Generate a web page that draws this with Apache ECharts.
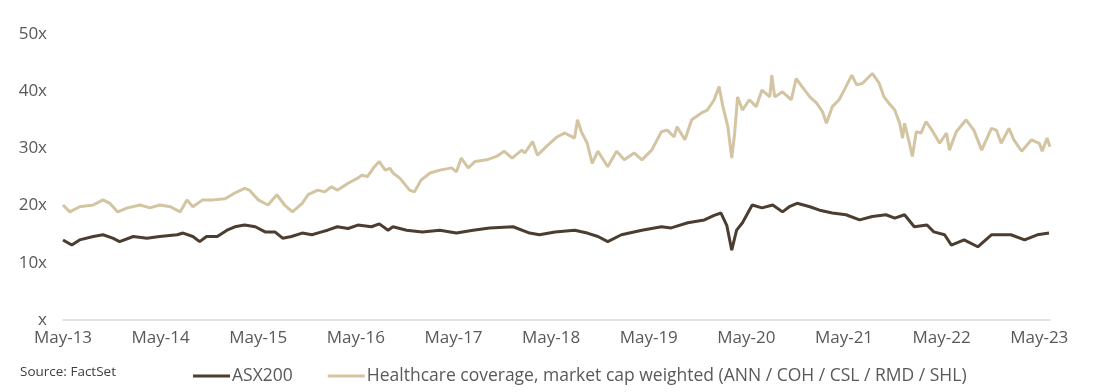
<!DOCTYPE html>
<html>
<head>
<meta charset="utf-8">
<script src="https://cdn.jsdelivr.net/npm/echarts@6/dist/echarts.min.js"></script>
<style>
html,body{margin:0;padding:0;background:#fff;}
#c{width:1094px;height:392px;}
</style>
</head>
<body>
<div id="c"></div>
<script>
// x = years since May-2013
const xTickLabels = ['May-13','May-14','May-15','May-16','May-17','May-18','May-19','May-20','May-21','May-22','May-23'];
const yTickLabels = ['x','10x','20x','30x','40x','50x'];
const seriesNames = ['ASX200','Healthcare coverage, market cap weighted (ANN / COH / CSL / RMD / SHL)'];

const asxYears = [0.00,0.09,0.17,0.31,0.41,0.51,0.58,0.72,0.86,0.99,1.17,1.23,1.33,1.40,1.47,1.58,1.68,1.76,1.86,1.97,2.07,2.17,2.25,2.34,2.45,2.55,2.65,2.71,2.81,2.92,3.02,3.16,3.24,3.33,3.38,3.52,3.68,3.86,4.03,4.20,4.37,4.61,4.78,4.88,5.04,5.24,5.37,5.48,5.58,5.72,5.93,6.13,6.23,6.40,6.57,6.67,6.74,6.80,6.85,6.90,6.96,7.03,7.06,7.16,7.27,7.37,7.44,7.52,7.65,7.75,7.88,8.02,8.16,8.29,8.43,8.52,8.62,8.72,8.85,8.92,9.03,9.10,9.23,9.37,9.51,9.71,9.85,9.98,10.10];
const asxValues = [14.0,13.1,14.0,14.6,14.9,14.3,13.7,14.6,14.3,14.6,14.9,15.2,14.6,13.7,14.6,14.6,15.7,16.3,16.6,16.3,15.4,15.4,14.3,14.6,15.2,14.9,15.4,15.7,16.3,16.0,16.6,16.3,16.8,15.7,16.3,15.7,15.4,15.7,15.2,15.7,16.1,16.3,15.2,14.9,15.4,15.7,15.2,14.6,13.7,14.9,15.7,16.3,16.1,17.0,17.5,18.3,18.7,16.5,12.2,15.7,17.0,19.2,20.1,19.6,20.1,18.9,19.8,20.4,19.8,19.2,18.7,18.4,17.5,18.1,18.4,17.8,18.4,16.3,16.6,15.4,14.9,13.1,14.0,12.8,14.9,14.9,14.0,14.9,15.2];

const hcYears = [0.00,0.07,0.17,0.31,0.41,0.48,0.56,0.66,0.79,0.89,0.99,1.10,1.20,1.27,1.33,1.43,1.54,1.66,1.76,1.86,1.91,2.00,2.10,2.19,2.27,2.35,2.45,2.51,2.61,2.68,2.75,2.81,2.92,3.02,3.06,3.12,3.19,3.24,3.30,3.35,3.38,3.45,3.55,3.60,3.67,3.76,3.86,3.98,4.03,4.08,4.15,4.22,4.34,4.44,4.52,4.60,4.70,4.73,4.81,4.86,4.95,5.06,5.14,5.24,5.27,5.31,5.37,5.42,5.48,5.58,5.67,5.75,5.85,5.93,6.03,6.13,6.19,6.26,6.29,6.37,6.44,6.54,6.60,6.67,6.72,6.76,6.81,6.85,6.88,6.91,6.96,7.03,7.10,7.16,7.24,7.26,7.29,7.37,7.46,7.51,7.57,7.65,7.72,7.78,7.82,7.88,7.95,8.02,8.08,8.13,8.19,8.29,8.36,8.41,8.46,8.52,8.57,8.60,8.62,8.67,8.70,8.74,8.79,8.84,8.90,8.98,9.05,9.08,9.15,9.25,9.33,9.41,9.51,9.56,9.61,9.69,9.74,9.82,9.92,10.00,10.03,10.08,10.11];
const hcValues = [20.1,18.9,19.8,20.1,21.0,20.4,18.9,19.6,20.1,19.6,20.1,19.8,18.9,21.0,19.8,21.0,21.0,21.2,22.2,23.0,22.7,21.0,20.1,21.9,20.1,18.9,20.4,21.9,22.7,22.4,23.3,22.7,23.9,24.8,25.3,25.1,26.8,27.7,26.2,26.5,25.7,24.8,22.7,22.4,24.5,25.7,26.2,26.6,25.9,28.3,26.6,27.7,28.0,28.6,29.5,28.3,29.7,29.2,31.2,28.8,30.3,32.0,32.7,31.8,35.0,32.9,30.9,27.4,29.5,26.8,29.5,28.0,29.2,28.0,29.7,32.9,33.2,32.0,33.8,31.5,35.0,36.2,36.7,38.5,40.8,37.3,33.8,28.3,32.7,39.0,36.7,38.5,37.3,40.2,39.0,42.8,39.0,39.9,38.5,42.2,40.8,39.0,37.9,36.4,34.4,37.3,38.5,40.8,42.8,41.1,41.4,43.1,41.4,39.0,37.9,36.7,34.4,31.8,34.4,30.9,28.6,32.9,32.7,34.7,33.2,30.9,32.7,29.7,32.9,35.0,33.2,29.7,33.5,33.2,30.9,33.5,31.5,29.5,31.5,30.9,29.5,31.8,30.3];

const pair = (xs, ys) => xs.map((x, i) => [x, ys[i]]);
const FONT = '"Open Sans", sans-serif';
const chart = echarts.init(document.getElementById('c'), null, {renderer: 'canvas'});
chart.setOption({
  animation: false,
  backgroundColor: '#ffffff',
  grid: {left: 63, right: 44, top: 34, bottom: 72},
  xAxis: {
    type: 'value', min: 0, max: 10.11, interval: 1,
    axisLine: {show: true, lineStyle: {color: '#d9d9d9', width: 1.5}},
    axisTick: {show: false},
    splitLine: {show: false},
    axisLabel: {
      color: '#595959', fontFamily: FONT, fontSize: 17, margin: 10,
      showMaxLabel: true,
      formatter: v => (Math.abs(v - Math.round(v)) < 1e-6 && xTickLabels[Math.round(v)] !== undefined) ? xTickLabels[Math.round(v)] : ''
    }
  },
  yAxis: {
    type: 'value', min: 0, max: 50, interval: 10,
    axisLine: {show: false}, axisTick: {show: false}, splitLine: {show: false},
    axisLabel: {
      color: '#595959', fontFamily: FONT, fontSize: 17, margin: 16,
      formatter: v => yTickLabels[Math.round(v / 10)]
    }
  },
  legend: {
    left: 188, top: 362,
    itemWidth: 37, itemHeight: 3, itemGap: 35,
    icon: 'rect',
    textStyle: {color: '#595959', fontFamily: FONT, fontSize: 17.5, padding: [0, 0, 0, -3]},
    data: seriesNames
  },
  graphic: [{
    type: 'text', left: 20, top: 365,
    style: {text: 'Source: FactSet', fill: '#404040', font: '13.5px "Open Sans", sans-serif'}
  }],
  series: [
    {name: seriesNames[1], type: 'line', showSymbol: false, data: pair(hcYears, hcValues),
     lineStyle: {color: '#d3c4a2', width: 3}, itemStyle: {color: '#d3c4a2'}, z: 2},
    {name: seriesNames[0], type: 'line', showSymbol: false, data: pair(asxYears, asxValues),
     lineStyle: {color: '#4b3d2f', width: 3}, itemStyle: {color: '#4b3d2f'}, z: 3}
  ]
});
</script>
</body>
</html>
